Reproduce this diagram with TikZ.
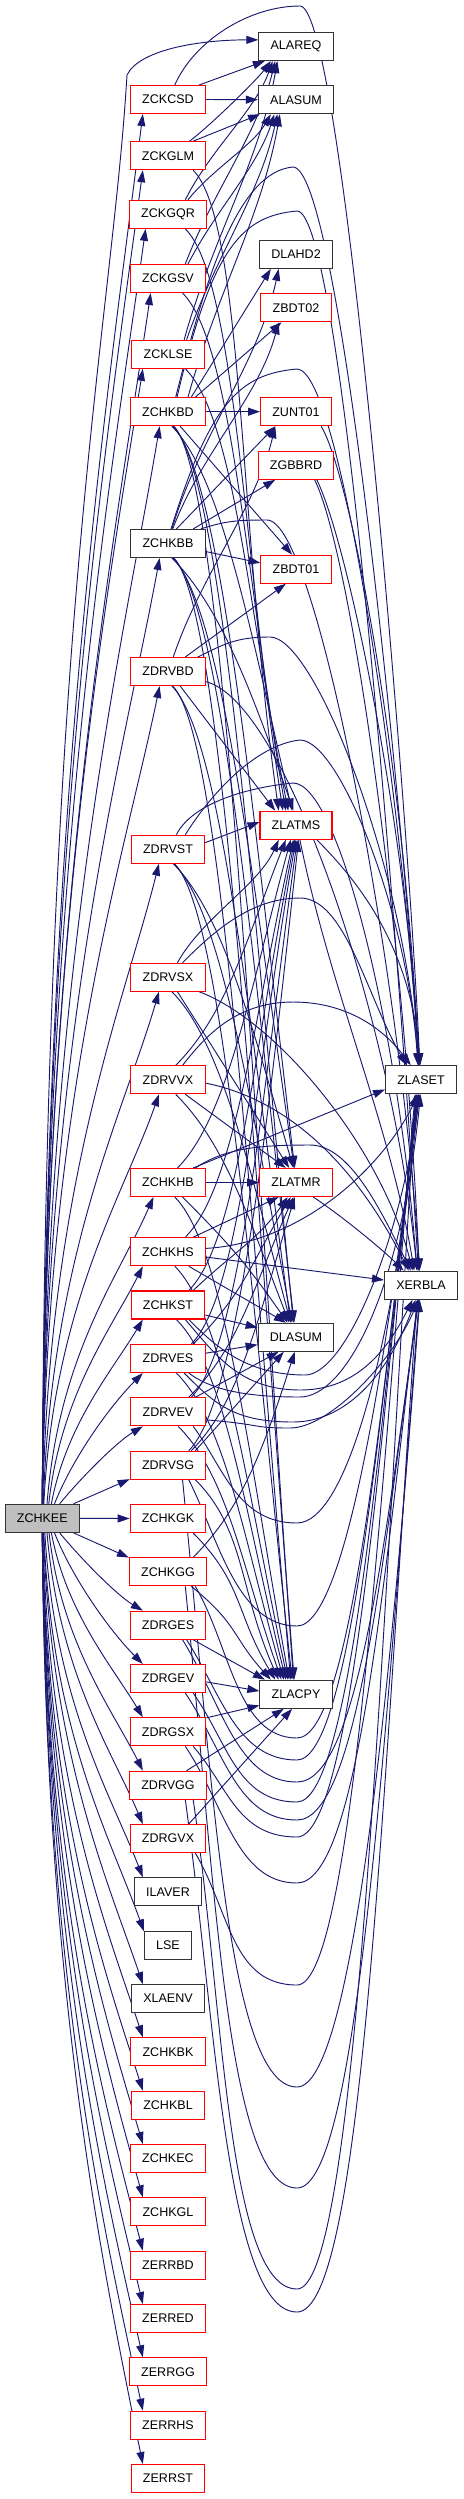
\documentclass[tikz,border=0pt]{standalone}
\usepackage{fontspec}
\setmainfont{Liberation Sans}
\usetikzlibrary{arrows.meta, backgrounds}
\definecolor{edgeblue}{HTML}{191970}

\begin{document}
\begin{tikzpicture}[
    x=0.75pt, y=0.75pt, % one unit is one pixel of the graph
    >={Triangle[length=9pt, width=6pt]}, % Set default arrow tip style
    fn/.style={draw=black!80, line width=0.8pt, fill=white, minimum height=21pt,
      inner xsep=8.8pt, inner ysep=0pt, font=\fontsize{9.4}{11}\selectfont}, % Style for routine boxes
    fnred/.style={fn, draw=red}, % Boxes whose callees are cut off
    fnroot/.style={fn, fill=black!25}, % Style for the root routine
    call/.style={->, draw=edgeblue, line width=0.7pt} % Style for call edges
]
\useasboundingbox (0,0) rectangle (464,-2499);

    % Root routine
    \node[fnroot] (ZCHKEE) at (42.3,-1518.3) {ZCHKEE};

    % Middle column
    \foreach \n/\s/\y in {ZCKCSD/fnred/99.5, ZCKGLM/fnred/155.7, ZCKGQR/fnred/214.3,
        ZCKGSV/fnred/278.5, ZCKLSE/fnred/354.3, ZCHKBD/fnred/411.7, ZCHKBB/fn/543.5,
        ZDRVBD/fnred/671.5, ZDRVST/fnred/849.2, ZDRVSX/fnred/977.2, ZDRVVX/fnred/1079.8,
        ZCHKHB/fnred/1182.5, ZCHKHS/fnred/1251.7, ZCHKST/fnred/1305, ZDRVES/fnred/1358.5,
        ZDRVEV/fnred/1411.8, ZDRVSG/fnred/1465.2, ZCHKGK/fnred/1518.5, ZCHKGG/fnred/1571.8,
        ZDRGES/fnred/1625.2, ZDRGEV/fnred/1678.5, ZDRGSX/fnred/1731.8, ZDRVGG/fnred/1785.2,
        ZDRGVX/fnred/1838.5, ILAVER/fn/1891.8, LSE/fn/1945.2, XLAENV/fn/1998.5,
        ZCHKBK/fnred/2051.8, ZCHKBL/fnred/2105.2, ZCHKEC/fnred/2158.5, ZCHKGL/fnred/2211.8,
        ZERRBD/fnred/2265.2, ZERRED/fnred/2318.5, ZERRGG/fnred/2371.8, ZERRHS/fnred/2425.2,
        ZERRST/fnred/2478.5}
      \node[\s] (\n) at (168,-\y) {\n};

    % Third column
    \foreach \n/\s/\y in {ALAREQ/fn/46.5, ALASUM/fn/99.7, DLAHD2/fn/254.3, ZBDT02/fnred/307.8,
        ZUNT01/fnred/411.7, ZGBBRD/fnred/465.2, ZBDT01/fnred/569.2, ZLATMS/fnred/825.2,
        ZLATMR/fnred/1182.5, DLASUM/fn/1337.2, ZLACPY/fn/1694.2}
      \node[\s] (\n) at (296,-\y) {\n};

    % Last column
    \node[fn] (ZLASET) at (421,-1079.8) {ZLASET};
    \node[fn] (XERBLA) at (421,-1285.2) {XERBLA};

\begin{pgfonlayer}{background}
    % Root to the callees above it
    \foreach \dst/\sa/\da/\ca/\cb in {ZCKCSD/90/-150/{3,700}/{-35,-280},
        ZCKGLM/90/-150/{3,670}/{-35,-260}, ZCKGQR/90/-147/{3,640}/{-35,-250},
        ZCKGSV/90/-140/{3,600}/{-35,-240}, ZCKLSE/90/-150/{3,570}/{-35,-220},
        ZCHKBD/90/-120/{4,540}/{-35,-210}, ZCHKBB/90/-120/{4,470}/{-35,-190},
        ZDRVBD/90/-120/{5,410}/{-35,-170}, ZDRVST/88/-122/{6,320}/{-35,-140},
        ZDRVSX/86/-122/{8,250}/{-35,-120}, ZDRVVX/84/-122/{10,200}/{-35,-100},
        ZCHKHB/72/-135/{12,150}/{-35,-80}, ZCHKHS/66/-150/{12,110}/{-30,-60},
        ZCHKST/58/-150/{15,80}/{-30,-50}, ZDRVES/50/-150/{20,50}/{-30,-30},
        ZDRVEV/40/-150/{25,30}/{-25,-15}}
      \draw[call] (ZCHKEE.\sa) .. controls +(\ca) and +(\cb) .. (\dst.\da);

    % Root to the callees below it
    \foreach \dst/\sa/\da/\ca/\cb in {ZDRGES/-40/150/{25,-30}/{-25,15},
        ZDRGEV/-50/150/{20,-50}/{-30,30}, ZDRGSX/-58/150/{15,-80}/{-30,50},
        ZDRVGG/-65/150/{12,-110}/{-30,60}, ZDRGVX/-72/150/{12,-140}/{-32,75},
        ILAVER/-80/150/{10,-170}/{-33,85}, LSE/-84/150/{8,-200}/{-34,95},
        XLAENV/-86/150/{8,-220}/{-36,105}, ZCHKBK/-88/150/{6,-250}/{-38,115},
        ZCHKBL/-90/150/{6,-280}/{-40,125}, ZCHKEC/-90/150/{5,-300}/{-40,135},
        ZCHKGL/-90/150/{5,-330}/{-40,145}, ZERRBD/-90/150/{4,-360}/{-40,155},
        ZERRED/-90/150/{4,-380}/{-40,165}, ZERRGG/-90/150/{4,-410}/{-40,175},
        ZERRHS/-90/150/{3,-440}/{-40,185}, ZERRST/-90/150/{3,-460}/{-40,195}}
      \draw[call] (ZCHKEE.\sa) .. controls +(\ca) and +(\cb) .. (\dst.\da);

    % Root to ALAREQ, round the top of the middle column
    \draw[call] (ZCHKEE.90) .. controls +(3,900) and +(-15,-250) .. (127,-75)
      .. controls +(12,25) and +(-60,0) .. (ALAREQ.170);

    % Straight calls
    \foreach \src/\dst in {ZCHKEE.25/ZDRVSG.-160, ZCHKEE.east/ZCHKGK.west, ZCHKEE.-25/ZCHKGG.160,
        ZCKCSD.25/ALAREQ.-155, ZCKCSD.east/ALASUM.west, ZCKGLM.30/ALASUM.-158,
        ZCHKBD.32/DLAHD2.-150, ZCHKBD.28/ZBDT02.-135, ZCHKBD.east/ZUNT01.west,
        ZCHKBD.-50/ZBDT01.105, ZCHKBB.60/ZUNT01.-145, ZCHKBB.30/ZGBBRD.-145,
        ZCHKBB.-12/ZBDT01.170, ZDRVBD.40/ZBDT01.-125, ZDRVBD.-50/ZLATMS.145,
        ZDRVST.10/ZLATMS.175, ZDRVSX.-57/ZLATMR.115, ZDRVVX.-40/ZLATMR.125,
        ZCHKHB.east/ZLATMR.west, ZCHKHB.30/ZLASET.-165, ZCHKHS.30/ZLATMR.-140,
        ZCHKHS.-8/XERBLA.172, ZCHKHS.-35/DLASUM.125, ZCHKST.-15/DLASUM.166,
        ZDRVES.8/DLASUM.-169, ZDRVEV.28/DLASUM.-140, ZDRVSG.28/DLASUM.-130,
        ZDRGES.-30/ZLACPY.155, ZDRGEV.-5/ZLACPY.175, ZDRGSX.20/ZLACPY.-163,
        ZDRVGG.38/ZLACPY.-130, ZDRGVX.35/ZLACPY.-105}
      \draw[call] (\src) -- (\dst);

    % Calls down to the third column
    \foreach \src/\dst/\ca/\cb in {ZCKGLM.-30/ZLATMS.140/{50,-50}/{-40,288},
        ZCKGQR.-40/ZLATMS.132/{50,-50}/{-40,262}, ZCKGSV.-45/ZLATMS.125/{50,-50}/{-40,234},
        ZCKLSE.-40/ZLATMS.118/{50,-50}/{-40,199}, ZCHKBD.-75/ZLATMS.105/{50,-50}/{-40,173},
        ZCHKBD.-72/ZLATMR.95/{50,-50}/{-40,334}, ZCHKBD.-70/DLASUM.100/{50,-50}/{-40,404},
        ZCHKBD.-68/ZLACPY.100/{50,-50}/{-40,564}, ZCHKBB.-75/ZLATMS.100/{50,-50}/{-40,114},
        ZCHKBB.-72/ZLATMR.97/{50,-50}/{-40,275}, ZCHKBB.-70/DLASUM.97/{50,-50}/{-40,345},
        ZCHKBB.-68/ZLACPY.97/{50,-50}/{-40,505}, ZDRVBD.-75/DLASUM.110/{50,-50}/{-40,287},
        ZDRVBD.-72/ZLACPY.110/{50,-50}/{-40,448}, ZDRVST.-70/ZLATMR.100/{50,-50}/{-40,137},
        ZDRVST.-68/DLASUM.105/{50,-50}/{-40,207}, ZDRVST.-66/ZLACPY.105/{50,-50}/{-40,368},
        ZDRVSX.-75/DLASUM.110/{50,-50}/{-40,149}, ZDRVVX.-62/DLASUM.115/{50,-50}/{-40,103},
        ZCHKHB.-45/DLASUM.120/{50,-50}/{-40,57}, ZCHKHB.-65/ZLACPY.115/{50,-50}/{-40,218},
        ZCHKHS.-65/ZLACPY.120/{50,-50}/{-40,186}, ZCHKST.-60/ZLACPY.125/{50,-50}/{-40,162},
        ZDRVES.-60/ZLACPY.130/{50,-50}/{-40,139}, ZDRVEV.-55/ZLACPY.135/{50,-50}/{-40,114},
        ZDRVSG.-28/ZLACPY.140/{50,-50}/{-40,90}, ZCHKGK.-30/ZLACPY.145/{50,-50}/{-40,67},
        ZCHKGG.-32/ZLACPY.150/{47,-38}/{-38,42}}
      \draw[call] (\src) .. controls +(\ca) and +(\cb) .. (\dst);

    % Calls up to the third column
    \foreach \src/\dst/\ca/\cb in {ZCKGLM.34/ALAREQ.-150/{20,15}/{-15,-20},
        ZCKGQR.40/ALAREQ.-148/{25,50}/{-18,-50}, ZCKGQR.36/ALASUM.-150/{25,31}/{-18,-31},
        ZCKGSV.40/ALAREQ.-145/{28,73}/{-18,-73}, ZCKGSV.36/ALASUM.-146/{28,54}/{-18,-54},
        ZCKLSE.42/ALAREQ.-142/{28,101}/{-18,-101}, ZCKLSE.38/ALASUM.-142/{28,82}/{-18,-82},
        ZCHKBD.36/ALASUM.-138/{28,102}/{-18,-102}, ZCHKBB.75/DLAHD2.-140/{28,94}/{-20,-94},
        ZCHKBB.72/ZBDT02.-140/{28,75}/{-20,-75}, ZDRVBD.70/ZUNT01.-145/{28,83}/{-20,-83},
        ZDRVSX.57/ZLATMS.-140/{25,45}/{-20,-45}, ZDRVVX.62/ZLATMS.-125/{50,50}/{-40,-102},
        ZCHKHB.57/ZLATMS.-110/{50,50}/{-40,-148}, ZCHKHS.40/ZLATMS.-100/{50,50}/{-40,-180},
        ZCHKST.35/ZLATMS.-95/{50,50}/{-40,-203}, ZCHKST.30/ZLATMR.-120/{40,38}/{-30,-43},
        ZDRVES.32/ZLATMS.-90/{50,50}/{-40,-227}, ZDRVES.30/ZLATMR.-110/{50,50}/{-40,-67},
        ZDRVEV.32/ZLATMS.-85/{50,50}/{-35,-252}, ZDRVEV.35/ZLATMR.-100/{50,50}/{-40,-90},
        ZDRVSG.35/ZLATMS.-80/{50,50}/{-30,-275}, ZDRVSG.32/ZLATMR.-95/{50,50}/{-35,-115},
        ZCHKGG.30/DLASUM.-95/{50,50}/{-30,-93}}
      \draw[call] (\src) .. controls +(\ca) and +(\cb) .. (\dst);

    % Calls to the last column that bend over the third one
    \foreach \src/\ca/\cb/\via/\cc/\cd/\dst in {
        ZCKCSD.65/{20,45}/{-50,0}/{300,-6}/{45,0}/{-8,200}/ZLASET.95,
        ZCHKBD.62/{30,120}/{-55,-5}/{293,-167}/{45,0}/{-20,300}/ZLASET.97,
        ZCHKBD.58/{35,150}/{-55,-5}/{297,-211}/{45,0}/{-22,350}/XERBLA.100,
        ZCHKBB.78/{40,130}/{-55,-5}/{297,-369}/{45,0}/{-15,250}/ZLASET.99,
        ZCHKBB.24/{25,8}/{-30,0}/{267,-520}/{50,0}/{-20,300}/XERBLA.95,
        ZDRVBD.26/{25,12}/{-35,0}/{270,-637}/{45,0}/{-15,200}/ZLASET.100,
        ZDRVST.40/{25,40}/{-45,-5}/{300,-740}/{40,0}/{-10,150}/ZLASET.102,
        ZDRVST.60/{15,30}/{-50,-5}/{293,-783}/{45,0}/{-20,250}/XERBLA.105,
        ZDRVSX.45/{30,30}/{-50,0}/{300,-898}/{45,0}/{-40,70}/ZLASET.135,
        ZDRVVX.45/{20,25}/{-60,0}/{293,-1002}/{50,0}/{-30,40}/ZLASET.125,
        ZCHKHB.28/{30,20}/{-50,0}/{310,-1145}/{40,0}/{-30,60}/XERBLA.125}
      \draw[call] (\src) .. controls +(\ca) and +(\cb) .. (\via) .. controls +(\cc) and +(\cd) .. (\dst);

    % Calls to the last column that bend under the third one
    \foreach \src/\ca/\cb/\via/\cc/\cd/\dst in {
        ZCHKST.-35/{25,-25}/{-60,0}/{305,-1375}/{40,0}/{-20,-150}/ZLASET.-95,
        ZCHKST.-40/{30,-35}/{-60,0}/{300,-1390}/{50,0}/{-30,-60}/XERBLA.-120,
        ZDRVES.-35/{20,-15}/{-60,0}/{300,-1397}/{45,0}/{-20,-200}/ZLASET.-92,
        ZDRVES.-42/{30,-30}/{-60,0}/{293,-1422}/{50,0}/{-30,-80}/XERBLA.-110,
        ZDRVEV.-12/{60,-5}/{-40,0}/{290,-1428}/{40,0}/{-25,-60}/XERBLA.-100,
        ZDRVEV.-30/{30,-40}/{-60,0}/{297,-1523}/{50,0}/{-25,-250}/ZLASET.-98,
        ZDRVSG.-35/{30,-60}/{-60,0}/{297,-1626}/{50,0}/{-30,-250}/ZLASET.-100,
        ZDRVSG.-45/{30,-300}/{-70,0}/{297,-2087}/{55,0}/{-30,-400}/XERBLA.-95,
        ZCHKGG.-28/{35,-60}/{-60,0}/{297,-1738}/{55,0}/{-35,-300}/ZLASET.-102,
        ZCHKGG.-40/{30,-300}/{-70,0}/{297,-2188}/{60,0}/{-35,-450}/XERBLA.-97,
        ZDRGES.-38/{35,-55}/{-60,0}/{297,-1760}/{55,0}/{-35,-300}/ZLASET.-104,
        ZDRGES.-45/{40,-65}/{-60,0}/{297,-1782}/{60,0}/{-35,-250}/XERBLA.-99,
        ZDRGEV.-30/{35,-50}/{-60,0}/{297,-1802}/{55,0}/{-35,-320}/ZLASET.-106,
        ZDRGEV.-40/{40,-60}/{-60,0}/{297,-1820}/{60,0}/{-35,-260}/XERBLA.-101,
        ZDRGSX.-30/{35,-40}/{-60,0}/{297,-1837}/{55,0}/{-35,-340}/ZLASET.-108,
        ZDRGSX.-40/{40,-60}/{-60,0}/{297,-1883}/{60,0}/{-35,-290}/XERBLA.-103,
        ZDRVGG.-30/{30,-200}/{-70,0}/{297,-2289}/{60,0}/{-35,-550}/ZLASET.-110,
        ZDRVGG.-40/{30,-220}/{-70,0}/{297,-2312}/{65,0}/{-35,-500}/XERBLA.-105,
        ZDRGVX.-28/{35,-60}/{-65,0}/{297,-1985}/{55,0}/{-35,-400}/ZLASET.-112}
      \draw[call] (\src) .. controls +(\ca) and +(\cb) .. (\via) .. controls +(\cc) and +(\cd) .. (\dst);

    % Other curved calls to the last column
    \foreach \src/\ca/\cb/\dst in {ZDRVBD.-15/{80,-20}/{-25,250}/XERBLA.105,
        ZDRVSX.-25/{80,-30}/{-30,120}/XERBLA.120, ZDRVVX.-5/{100,-20}/{-40,80}/XERBLA.130,
        ZCHKHS.5/{90,5}/{-40,-80}/ZLASET.-100,
        ZUNT01.-30/{30,-50}/{-15,300}/ZLASET.98, ZGBBRD.-35/{30,-60}/{-15,250}/ZLASET.96,
        ZGBBRD.-38/{35,-70}/{-15,350}/XERBLA.97, ZLATMS.-35/{40,-40}/{-10,120}/ZLASET.93,
        ZLATMS.-75/{30,-150}/{-25,150}/XERBLA.115, ZLATMR.-40/{30,-20}/{-20,20}/XERBLA.140}
      \draw[call] (\src) .. controls +(\ca) and +(\cb) .. (\dst);
\end{pgfonlayer}

\end{tikzpicture}
\end{document}
